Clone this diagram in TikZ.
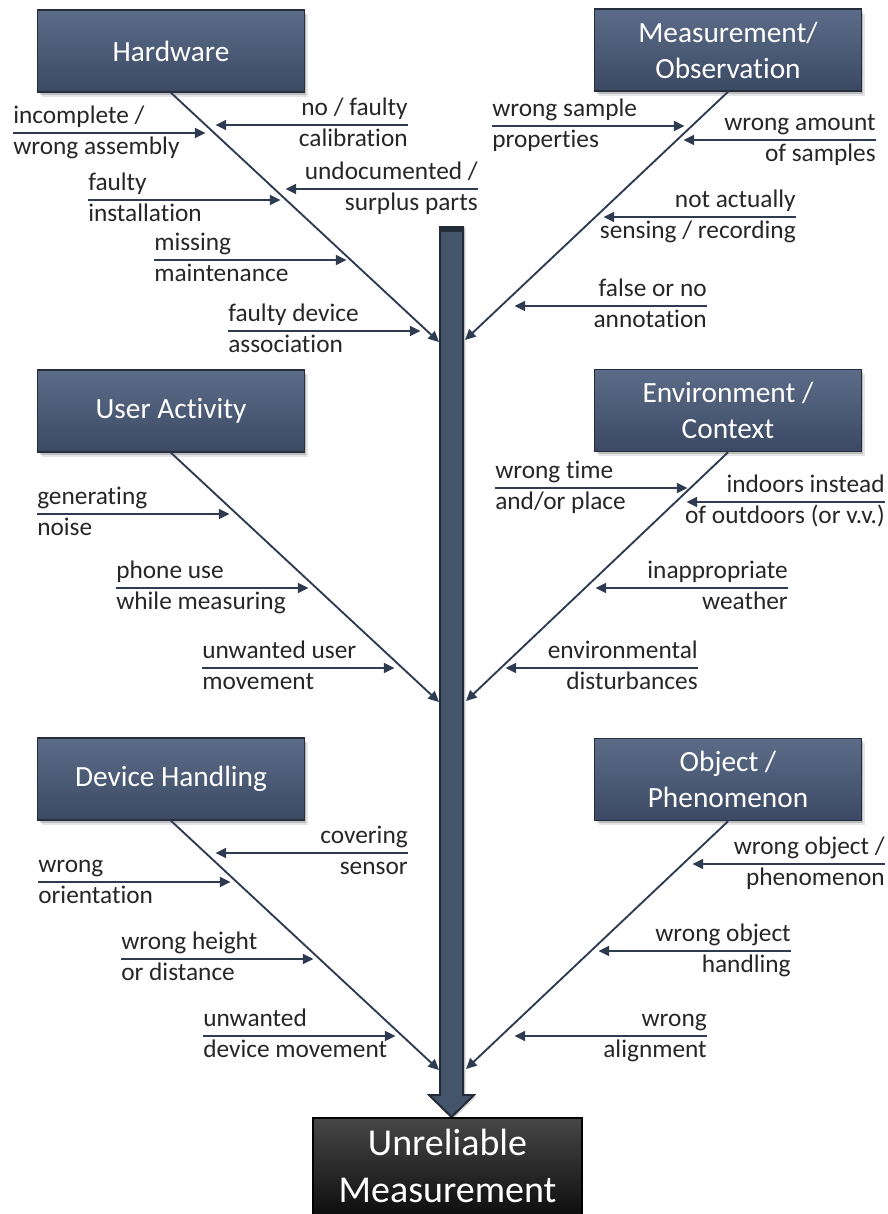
\documentclass[tikz,border=0pt]{standalone}
\usepackage{fontspec}
\setmainfont{Carlito}[Ligatures=NoCommon]
\usetikzlibrary{arrows.meta, shadows}
\definecolor{BoxTop}{HTML}{5C6C88}
\definecolor{BoxBottom}{HTML}{3B4963}
\definecolor{BoxEdge}{HTML}{252E3D}
\definecolor{SpineFill}{HTML}{44546A}
\definecolor{SpineEdge}{HTML}{222B38}
\definecolor{BoneLine}{HTML}{2F3B50}
\definecolor{LabelText}{HTML}{262626}
\definecolor{EffectTop}{HTML}{474747}
\definecolor{EffectBottom}{HTML}{0A0A0A}
\newcommand{\twolines}[2]{\strut#1\\\strut#2}
\tikzset{
  catbox/.style={draw=BoxEdge, line width=1.2pt, top color=BoxTop, bottom color=BoxBottom, text=white, align=center, minimum width=200pt, minimum height=61.5pt, inner sep=2pt, font=\fontsize{22}{27}\selectfont, drop shadow={shadow xshift=1.5pt, shadow yshift=-2pt, opacity=0.18, fill=black}, drop shadow={shadow xshift=3pt, shadow yshift=-3.5pt, opacity=0.1, fill=black}},
  effectbox/.style={draw=black, line width=1.2pt, top color=EffectTop, bottom color=EffectBottom, text=white, align=center, minimum width=201.75pt, inner xsep=2pt, inner ysep=3.75pt, font=\fontsize{28.5}{35.25}\selectfont},
  causeL/.style={anchor=west, align=flush left, text width=144pt, inner sep=0pt, text=LabelText, font=\fontsize{19}{23.25}\selectfont},
  causeR/.style={causeL, anchor=east, align=flush right},
  causearrow/.style={-{Triangle[length=8pt, width=7.5pt]}, line width=1.5pt, draw=BoneLine},
  bone/.style={causearrow, line width=1.4pt},
  spine/.style={fill=SpineFill, draw=SpineEdge, line width=1.5pt, drop shadow={shadow xshift=2pt, shadow yshift=-1pt, opacity=0.15, fill=black}}
}

\begin{document}
\begin{tikzpicture}[x=0.75pt, y=-0.75pt]
\useasboundingbox (0,0) rectangle (888,1214);

% central arrow into the effect
\filldraw[spine] (440,227) -- (463,227) -- (463,1095) -- (474,1095) -- (451.5,1117)
  -- (429,1095) -- (440,1095) -- cycle;
\fill[SpineEdge] (440,227) rectangle (463,232);
\node[effectbox, anchor=north] (effect) at (447.5,1117) {\twolines{Unreliable}{Measurement}};

% category boxes
\node[catbox] (hw) at (171,51) {Hardware};
\node[catbox] (mo) at (728,50) {Measurement/\\Observation};
\node[catbox] (ua) at (171,411) {User Activity};
\node[catbox] (ec) at (728,410.5) {Environment /\\Context};
\node[catbox] (dh) at (171,779) {Device Handling};
\node[catbox] (op) at (728,779.5) {Object /\\Phenomenon};

% bones onto the spine
\coordinate (hw-in) at (439,342);
\coordinate (mo-in) at (465,340);
\coordinate (ua-in) at (439,702);
\coordinate (ec-in) at (466,701);
\coordinate (dh-in) at (439,1070);
\coordinate (op-in) at (466,1069);
\draw[bone] (hw.south) -- (hw-in);
\draw[bone] (mo.south) -- (mo-in);
\draw[bone] (ua.south) -- (ua-in);
\draw[bone] (ec.south) -- (ec-in);
\draw[bone] (dh.south) -- (dh-in);
\draw[bone] (op.south) -- (op-in);

% hardware
\node[causeL] (hw1) at (13,133) {\twolines{incomplete /}{wrong assembly}};
\node[causeR] (hw2) at (408,125) {\twolines{no / faulty}{calibration}};
\node[causeL] (hw3) at (88,200) {\twolines{faulty}{installation}};
\node[causeR] (hw4) at (478,189) {\twolines{undocumented /}{surplus parts}};
\node[causeL] (hw5) at (154,260) {\twolines{missing}{maintenance}};
\node[causeL] (hw6) at (228,331) {\twolines{faulty device}{association}};
\draw[causearrow] (hw1.west) -- (hw1.east);
\draw[causearrow] (hw2.east) -- (hw2.west);
\draw[causearrow] (hw3.west) -- (hw3.east);
\draw[causearrow] (hw4.east) -- (hw4.west);
\draw[causearrow] (hw5.west) -- (hw5.east);
\draw[causearrow] (hw6.west) -- (hw6.east);

% measurement / observation
\node[causeL] (mo1) at (492,126) {\twolines{wrong sample}{properties}};
\node[causeR] (mo2) at (876,140) {\twolines{wrong amount}{of samples}};
\node[causeR] (mo3) at (796,217) {\twolines{not actually}{\makebox[0pt][r]{sensing / recording}}};
\node[causeR] (mo4) at (707,306) {\twolines{false or no}{annotation}};
\draw[causearrow] (mo1.west) -- (mo1.east);
\draw[causearrow] (mo2.east) -- (mo2.west);
\draw[causearrow] (mo3.east) -- (mo3.west);
\draw[causearrow] (mo4.east) -- (mo4.west);

% user activity
\node[causeL] (ua1) at (37,514) {\twolines{generating}{noise}};
\node[causeL] (ua2) at (116,588) {\twolines{phone use}{while measuring}};
\node[causeL] (ua3) at (202,668) {\twolines{unwanted user}{movement}};
\draw[causearrow] (ua1.west) -- (ua1.east);
\draw[causearrow] (ua2.west) -- (ua2.east);
\draw[causearrow] (ua3.west) -- (ua3.east);

% environment / context
\node[causeL] (ec1) at (495,488) {\twolines{wrong time}{and/or place}};
\node[causeR, text width=148.5pt] (ec2) at (885,502) {\twolines{indoors instead}{\makebox[0pt][r]{of outdoors (or v.v.)}}};
\node[causeR] (ec3) at (788,588) {\twolines{inappropriate}{weather}};
\node[causeR] (ec4) at (698,668) {\twolines{environmental}{disturbances}};
\draw[causearrow] (ec1.west) -- (ec1.east);
\draw[causearrow] (ec2.east) -- (ec2.west);
\draw[causearrow] (ec3.east) -- (ec3.west);
\draw[causearrow] (ec4.east) -- (ec4.west);

% device handling
\node[causeR] (dh1) at (408,853) {\twolines{covering}{sensor}};
\node[causeL] (dh2) at (38,882) {\twolines{wrong}{orientation}};
\node[causeL] (dh3) at (121,959) {\twolines{wrong height}{or distance}};
\node[causeL] (dh4) at (203,1036) {\twolines{unwanted}{device movement}};
\draw[causearrow] (dh1.east) -- (dh1.west);
\draw[causearrow] (dh2.west) -- (dh2.east);
\draw[causearrow] (dh3.west) -- (dh3.east);
\draw[causearrow] (dh4.west) -- (dh4.east);

% object / phenomenon
\node[causeR] (op1) at (885,864) {\twolines{wrong object /}{phenomenon}};
\node[causeR] (op2) at (791,951) {\twolines{wrong object}{handling}};
\node[causeR] (op3) at (707,1036) {\twolines{wrong}{alignment}};
\draw[causearrow] (op1.east) -- (op1.west);
\draw[causearrow] (op2.east) -- (op2.west);
\draw[causearrow] (op3.east) -- (op3.west);
\end{tikzpicture}
\end{document}
